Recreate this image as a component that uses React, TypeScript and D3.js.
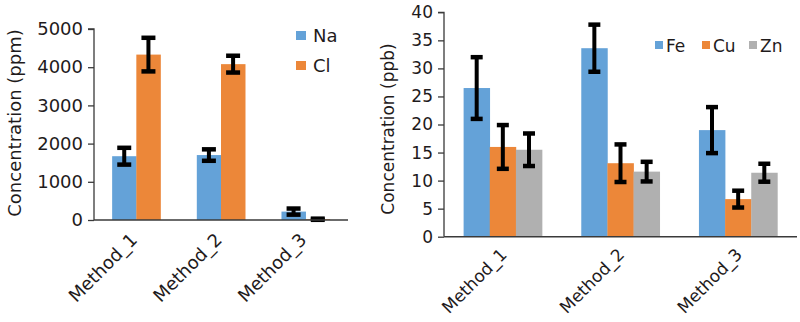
import React, { useEffect, useRef } from "react";
import * as d3 from "d3";

const categories = ["Method_1", "Method_2", "Method_3"];

const leftSeries = ["Na", "Cl"];
const naValues = [1670, 1700, 220];
const naErrors = [220, 150, 80];
const clValues = [4330, 4080, 20];
const clErrors = [440, 220, 15];
const leftTicks = [0, 1000, 2000, 3000, 4000, 5000];

const rightSeries = ["Fe", "Cu", "Zn"];
const feValues = [26.5, 33.6, 19.0];
const feErrors = [5.5, 4.2, 4.1];
const cuValues = [16.0, 13.1, 6.7];
const cuErrors = [3.9, 3.35, 1.5];
const znValues = [15.5, 11.6, 11.4];
const znErrors = [2.9, 1.75, 1.6];
const rightTicks = [0, 5, 10, 15, 20, 25, 30, 35, 40];

const colors = ["#64a2d8", "#ec8739", "#b0b0b0"];
const textColor = "#1f1b1c";
const axisColor = "#3a3a3a";
const FONT = "'DejaVu Sans', sans-serif";

type Panel = {
  x0: number;
  x1: number;
  axisEnd: number;
  yTop: number;
  yBottom: number;
  yMax: number;
  ticks: number[];
  series: string[];
  values: number[][];
  errors: number[][];
  fontSize: number;
  capW: number;
  labelDx: number;
  labelDy: number;
  yLabel: string;
  yLabelX: number;
  yLabelY: number;
  legend: (g: d3.Selection<SVGGElement, unknown, null, undefined>) => void;
};

function drawPanel(svg: d3.Selection<SVGSVGElement, unknown, null, undefined>, p: Panel) {
  const g = svg.append("g");
  const x = d3.scaleBand<string>().domain(categories).range([p.x0, p.x1]).paddingInner(0).paddingOuter(0);
  const n = p.series.length;
  const band = x.bandwidth();
  const barW = band / (n + 1.5);
  const inner = d3.scaleBand<number>().domain(d3.range(n)).range([0, barW * n]);
  const y = d3.scaleLinear().domain([0, p.yMax]).range([p.yBottom, p.yTop]);

  // bars
  p.series.forEach((s, si) => {
    g.selectAll(null)
      .data(categories)
      .enter()
      .append("rect")
      .attr("x", (c) => (x(c) as number) + (band - barW * n) / 2 + (inner(si) as number))
      .attr("width", barW + 0.3)
      .attr("y", (c, i) => y(p.values[si][i]))
      .attr("height", (c, i) => y(0) - y(p.values[si][i]))
      .attr("fill", colors[si]);
  });

  // error bars
  p.series.forEach((s, si) => {
    categories.forEach((c, i) => {
      const cx = (x(c) as number) + (band - barW * n) / 2 + (inner(si) as number) + barW / 2;
      const v = p.values[si][i];
      const e = p.errors[si][i];
      const yt = y(v + e);
      const yb = y(Math.max(0, v - e));
      g.append("line").attr("x1", cx).attr("x2", cx).attr("y1", yt).attr("y2", yb)
        .attr("stroke", "#000").attr("stroke-width", 4);
      [yt, yb].forEach((yy) => {
        g.append("line").attr("x1", cx - p.capW / 2).attr("x2", cx + p.capW / 2)
          .attr("y1", yy).attr("y2", yy).attr("stroke", "#000").attr("stroke-width", 4.5);
      });
    });
  });

  // y axis
  const yAxis = d3.axisLeft(y).tickValues(p.ticks).tickSize(6).tickPadding(5).tickFormat(d3.format("d"));
  const ya = g.append("g").attr("transform", `translate(${p.x0},0)`).call(yAxis);
  ya.select(".domain").attr("stroke", axisColor).attr("stroke-width", 1.3)
    .attr("d", `M-6,${p.yTop}H0V${p.yBottom}`);
  ya.selectAll(".tick line").attr("stroke", axisColor).attr("stroke-width", 1.3);
  ya.selectAll(".tick text").attr("font-family", FONT).attr("font-size", p.fontSize)
    .attr("fill", textColor);

  // x axis line
  g.append("line").attr("x1", p.x0).attr("x2", p.axisEnd).attr("y1", p.yBottom).attr("y2", p.yBottom)
    .attr("stroke", axisColor).attr("stroke-width", 1.5);

  // x labels
  g.selectAll(null)
    .data(categories)
    .enter()
    .append("text")
    .attr("transform", (c) => `translate(${(x(c) as number) + band / 2 + p.labelDx},${p.yBottom + p.labelDy}) rotate(-45)`)
    .attr("text-anchor", "end")
    .attr("font-family", FONT)
    .attr("font-size", p.fontSize)
    .attr("fill", textColor)
    .text((c) => c);

  // y label
  g.append("text")
    .attr("transform", `translate(${p.yLabelX},${p.yLabelY}) rotate(-90)`)
    .attr("text-anchor", "middle")
    .attr("font-family", FONT)
    .attr("font-size", p.fontSize)
    .attr("fill", textColor)
    .text(p.yLabel);

  const lg = g.append("g");
  p.legend(lg);
}

export default function App() {
  const ref = useRef<SVGSVGElement>(null);
  useEffect(() => {
    const svg = d3.select(ref.current as SVGSVGElement);
    svg.selectAll("*").remove();

    drawPanel(svg, {
      x0: 94,
      x1: 348,
      axisEnd: 348,
      yTop: 29,
      yBottom: 220,
      yMax: 5000,
      ticks: leftTicks,
      series: leftSeries,
      values: [naValues, clValues],
      errors: [naErrors, clErrors],
      fontSize: 18,
      capW: 14,
      labelDx: 2,
      labelDy: 21,
      yLabel: "Concentration (ppm)",
      yLabelX: 21,
      yLabelY: 123,
      legend: (lg) => {
        leftSeries.forEach((s, i) => {
          lg.append("rect").attr("x", 296).attr("y", 31 + i * 30).attr("width", 10).attr("height", 9)
            .attr("fill", colors[i]);
          lg.append("text").attr("x", 313).attr("y", 42 + i * 30)
            .attr("font-family", FONT).attr("font-size", 18).attr("fill", textColor).text(s);
        });
      },
    });

    drawPanel(svg, {
      x0: 444,
      x1: 797,
      axisEnd: 797,
      yTop: 12.3,
      yBottom: 236.7,
      yMax: 40,
      ticks: rightTicks,
      series: rightSeries,
      values: [feValues, cuValues, znValues],
      errors: [feErrors, cuErrors, znErrors],
      fontSize: 17,
      capW: 12,
      labelDx: 5,
      labelDy: 19,
      yLabel: "Concentration (ppb)",
      yLabelX: 394,
      yLabelY: 129,
      legend: (lg) => {
        const xs = [655, 702, 749];
        rightSeries.forEach((s, i) => {
          lg.append("rect").attr("x", xs[i]).attr("y", 41).attr("width", 8).attr("height", 8)
            .attr("fill", colors[i]);
          lg.append("text").attr("x", xs[i] + 11).attr("y", 52)
            .attr("font-family", FONT).attr("font-size", 17).attr("fill", textColor).text(s);
        });
      },
    });
  }, []);

  return (
    <svg
      ref={ref}
      width={800}
      height={322}
      style={{ position: "absolute", left: 0, top: 0, background: "#fff" }}
    />
  );
}
